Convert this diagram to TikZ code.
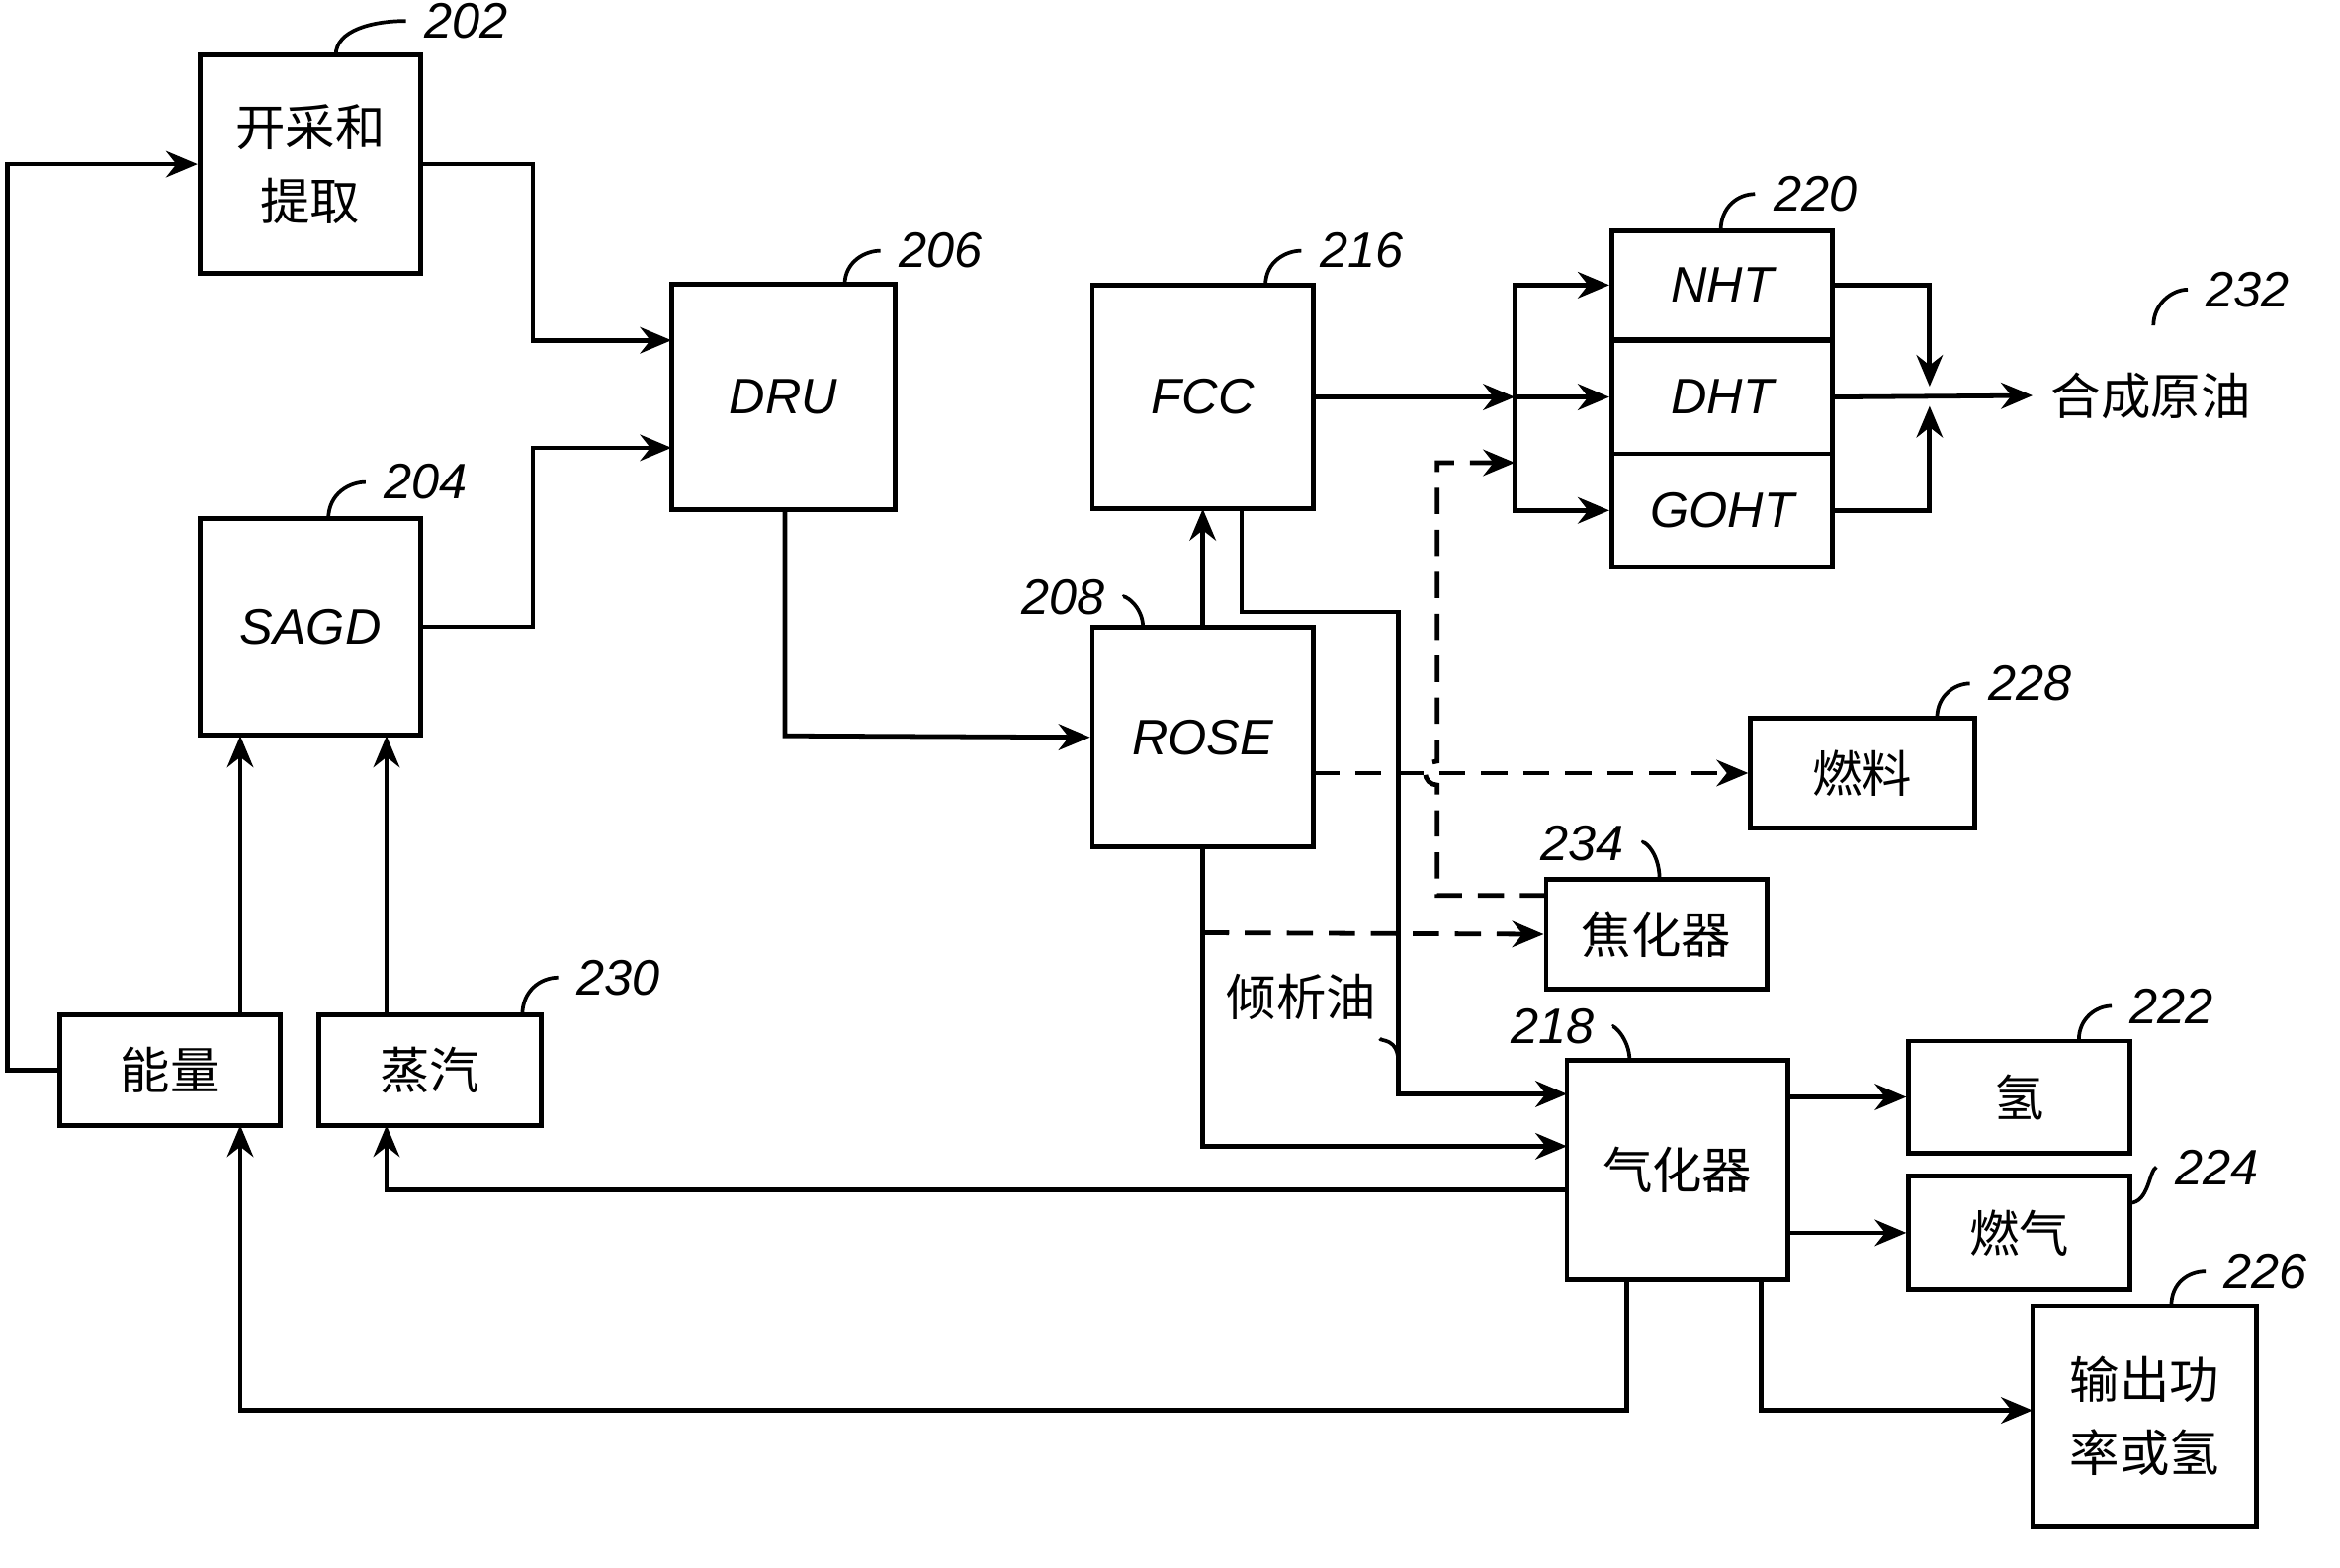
\documentclass[tikz,border=0pt]{standalone}
\usepackage{fontspec}
\setmainfont{Liberation Sans}
\newfontfamily\cjk{Noto Sans CJK SC}
\usetikzlibrary{arrows.meta}
\begin{document}
\begin{tikzpicture}[x=0.01cm,y=-0.01cm,
  box/.style={draw,line width=0.9pt,minimum width=148*0.01cm,inner sep=0pt,align=center,font=\fontsize{9.5}{14}\selectfont},
  en/.style={font=\fontsize{9.5}{11}\selectfont\itshape},
  zh/.style={font=\fontsize{9.5}{14}\selectfont\cjk},
  ln/.style={line width=0.9pt,-{Stealth[length=6pt,width=5pt]}},
  dl/.style={ln,dash pattern=on 5pt off 3pt},
  num/.style={font=\fontsize{9.5}{11}\selectfont\itshape,anchor=west},
  lead/.style={line width=0.7pt}]
\useasboundingbox (0,0) rectangle (1568,1050);
% boxes
\node[box,minimum height=146*0.01cm,zh] (b202) at (208,110) {开采和\\提取};
\node[box,minimum height=145*0.01cm,en] (b204) at (208,420) {SAGD};
\node[box,minimum height=151*0.01cm,minimum width=150*0.01cm,en] (b206) at (525,266) {DRU};
\node[box,minimum height=150*0.01cm,en] (b216) at (806,266) {FCC};
\node[box,minimum height=147*0.01cm,en] (b208) at (806,494) {ROSE};
\node[box,minimum height=73*0.01cm,en] (nht) at (1154,191) {NHT};
\node[box,minimum height=76*0.01cm,en] (dht) at (1154,266) {DHT};
\node[box,minimum height=76*0.01cm,en] (goht) at (1154,342) {GOHT};
\node[box,minimum height=74*0.01cm,minimum width=150*0.01cm,zh] (b228) at (1248,518) {燃料};
\node[box,minimum height=74*0.01cm,zh] (b234) at (1110,626) {焦化器};
\node[box,minimum height=147*0.01cm,zh] (b218) at (1124,784) {气化器};
\node[box,minimum height=75*0.01cm,zh] (b222) at (1353,735) {氢};
\node[box,minimum height=76*0.01cm,zh] (b224) at (1353,826) {燃气};
\node[box,minimum height=148*0.01cm,minimum width=150*0.01cm,zh] (b226) at (1437,949) {输出功\\率或氢};
\node[box,minimum height=74*0.01cm,zh] (eng) at (114,717) {能量};
\node[box,minimum height=74*0.01cm,minimum width=149*0.01cm,zh] (stm) at (288,717) {蒸汽};
\node[zh,anchor=west] (syn) at (1362,265) {合成原油};
\node[zh] (dec) at (872,668) {倾析油};
% numbers with leaders
\node[num] (n202) at (272,14) {202}; \draw[lead] (225,37) .. controls (225,20) and (250,14) .. (n202.west);
\node[num] (n204) at (245,323) {204}; \draw[lead] (220,348) .. controls (220,330) and (235,323) .. (n204.west);
\node[num] (n206) at (590,168) {206}; \draw[lead] (566,191) .. controls (566,175) and (580,168) .. (n206.west);
\node[num] (n216) at (872,168) {216}; \draw[lead] (848,191) .. controls (848,175) and (862,168) .. (n216.west);
\node[num] (n208) at (672,400) {208}; \draw[lead] (n208.east) .. controls (752,398) and (766,405) .. (766,421);
\node[num] (n220) at (1176,130) {220}; \draw[lead] (1153,155) .. controls (1153,138) and (1165,130) .. (n220.west);
\node[num] (n232) at (1466,194) {232}; \draw[lead] (1443,218) .. controls (1443,204) and (1455,194) .. (n232.west);
\node[num] (n228) at (1320,458) {228}; \draw[lead] (1298,481) .. controls (1298,466) and (1310,458) .. (n228.west);
\node[num] (n234) at (1020,565) {234}; \draw[lead] (n234.east) .. controls (1100,562) and (1112,570) .. (1112,589);
\node[num] (n230) at (374,655) {230}; \draw[lead] (350,680) .. controls (350,664) and (362,655) .. (n230.west);
\node[num] (n218) at (1000,688) {218}; \draw[lead] (n218.east) .. controls (1080,686) and (1092,695) .. (1092,711);
\node[num] (n222) at (1415,674) {222}; \draw[lead] (1393,697) .. controls (1393,682) and (1405,674) .. (n222.west);
\node[num] (n224) at (1445,782) {224}; \draw[lead] (1427,806) .. controls (1440,806) and (1440,784) .. (n224.west);
\node[num] (n226) at (1478,852) {226}; \draw[lead] (1455,875) .. controls (1455,860) and (1466,852) .. (n226.west);
\draw[lead] (dec.south east) ++(-10,0) .. controls (925,698) and (937,695) .. (937,712);
% connectors
\coordinate (j1) at (1015,266);
\draw[ln] (eng.west) -- (5,717) -- (5,110) -- (b202.west);
\draw[ln] (b202.east) -- (357,110) -- (357,228) -- (450,228);
\draw[ln] (282,420) -- (357,420) -- (357,300) -- (450,300);
\draw[ln] (161,680) -- (161,493);
\draw[ln] (259,680) -- (259,493);
\draw[ln] (526,342) -- (526,493) -- (b208.west);
\draw[ln] (806,421) -- (806,341);
\draw[ln] (b216.east) -- (j1);
\draw[ln] (j1) -- (dht.west);
\draw[ln] (j1) -- (1015,191) -- (nht.west);
\draw[ln] (j1) -- (1015,342) -- (goht.west);
\draw[ln] (nht.east) -- (1293,191) -- (1293,259);
\draw[ln] (goht.east) -- (1293,342) -- (1293,272);
\draw[ln] (dht.east) -- (syn.west);
\draw[dl] (880,518) -- (b228.west);
\draw[dl] (1036,600) -- (963,600) -- (963,526) arc (-90:90:-8) -- (963,310) -- (1015,310);
\draw[dl] (806,625) -- (b234.west);
\draw[ln] (832,341) -- (832,410) -- (937,410) -- (937,733) -- (1050,733);
\draw[ln] (806,568) -- (806,768) -- (1050,768);
\draw[ln] (1050,797) -- (259,797) -- (259,754);
\draw[ln] (1090,858) -- (1090,945) -- (161,945) -- (161,754);
\draw[ln] (1198,735) -- (b222.west);
\draw[ln] (1198,826) -- (b224.west);
\draw[ln] (1180,858) -- (1180,945) -- (1362,945);
\end{tikzpicture}
\end{document}
